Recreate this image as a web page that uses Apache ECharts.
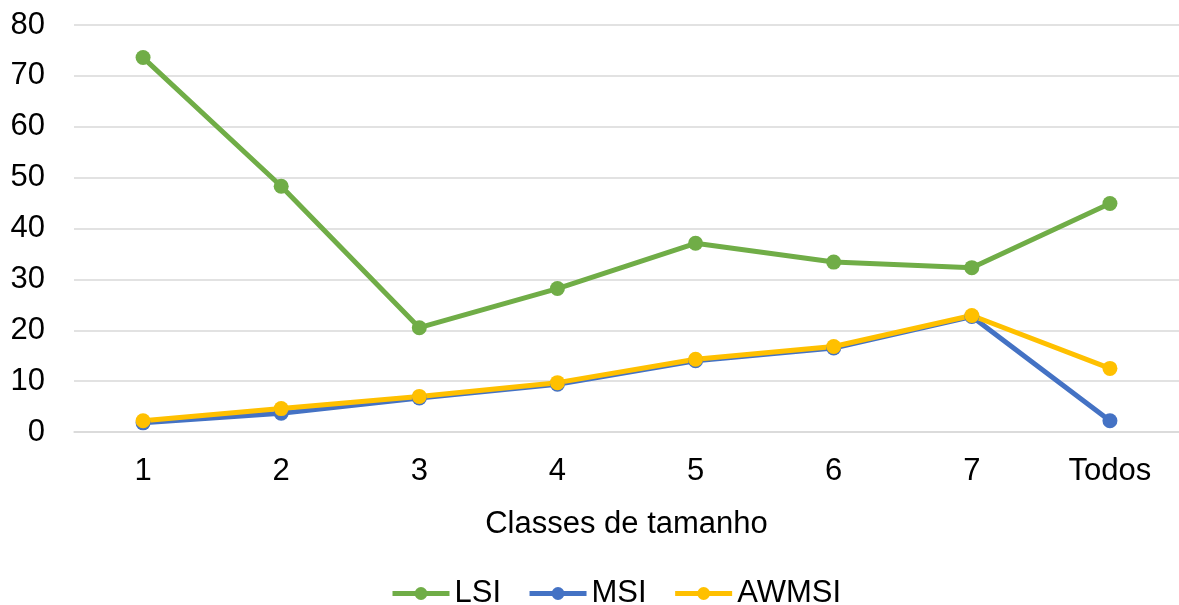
<!DOCTYPE html>
<html>
<head>
<meta charset="utf-8">
<script src="https://cdn.jsdelivr.net/npm/echarts@6/dist/echarts.min.js"></script>
<style>
  html, body { margin: 0; padding: 0; background: #ffffff; }
  #chart { width: 1179px; height: 605px; }
</style>
</head>
<body>
<div id="chart"></div>
<script>
// Size classes along the x axis
const categories = ['1', '2', '3', '4', '5', '6', '7', 'Todos'];

// Landscape shape indices per size class
const lsi   = [73.6, 48.3, 20.5, 28.2, 37.1, 33.4, 32.3, 44.9];
const msi   = [1.8, 3.7, 6.7, 9.4, 14.0, 16.5, 22.7, 2.2];
const awmsi = [2.2, 4.6, 7.0, 9.7, 14.3, 16.8, 22.9, 12.5];

// Value axis ticks
const yTicks = { min: 0, max: 80, interval: 10 };

const font = 'Liberation Sans, Arial, sans-serif';
const fontSize = 31;

function lineSeries(name, data, color) {
  return {
    name: name,
    type: 'line',
    data: data,
    symbol: 'circle',
    symbolSize: 15,
    lineStyle: { width: 5, color: color },
    itemStyle: { color: color },
    emphasis: { disabled: true },
    z: 2
  };
}

const chart = echarts.init(document.getElementById('chart'), null, { renderer: 'canvas' });
chart.setOption({
  animation: false,
  backgroundColor: '#ffffff',
  textStyle: { fontFamily: font },
  grid: { left: 74, right: -2, top: 25, bottom: 173, containLabel: false },
  xAxis: {
    type: 'category',
    data: categories,
    boundaryGap: true,
    axisLine: { show: true, lineStyle: { color: '#D9D9D9', width: 1.5 } },
    axisTick: { show: false },
    axisLabel: { color: '#000000', fontSize: fontSize, fontFamily: font, margin: 24 },
    name: 'Classes de tamanho',
    nameLocation: 'middle',
    nameGap: 77,
    nameTextStyle: { color: '#000000', fontSize: fontSize, fontFamily: font }
  },
  yAxis: {
    type: 'value',
    min: yTicks.min,
    max: yTicks.max,
    interval: yTicks.interval,
    axisLine: { show: false },
    axisTick: { show: false },
    axisLabel: { color: '#000000', fontSize: fontSize, fontFamily: font, margin: 29 },
    splitLine: { show: true, lineStyle: { color: '#D9D9D9', width: 1.5 } }
  },
  legend: {
    top: 573,
    left: 385,
    itemWidth: 57,
    itemHeight: 16,
    itemGap: 26,
    lineStyle: { width: 5 },
    textStyle: { color: '#000000', fontSize: fontSize, fontFamily: font },
    data: ['LSI', 'MSI', 'AWMSI']
  },
  series: [
    lineSeries('LSI', lsi, '#70AD47'),
    lineSeries('MSI', msi, '#4472C4'),
    lineSeries('AWMSI', awmsi, '#FFC000')
  ]
});
</script>
</body>
</html>
